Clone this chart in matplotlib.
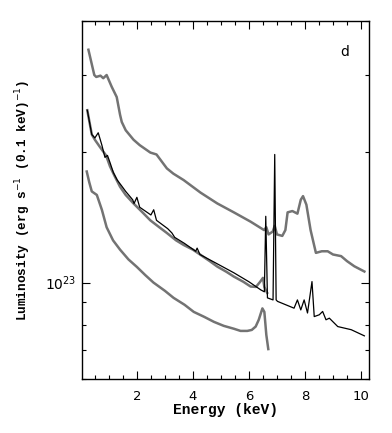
import matplotlib
matplotlib.use("Agg")
import matplotlib.pyplot as plt
from matplotlib.ticker import LogLocator, NullFormatter, MultipleLocator
import numpy as np

# luminosities in units of 1e23 erg/s/(0.1 keV)
top_e = [0.27, 0.48, 0.55, 0.70, 0.80, 0.92, 1.10, 1.28, 1.40, 1.46, 1.60, 1.88, 2.10, 2.48, 2.70,
         3.07, 3.30, 3.67, 4.27, 4.87, 5.46, 6.06, 6.54, 6.62, 6.70, 6.85, 6.92, 7.00, 7.19, 7.30,
         7.38, 7.55, 7.73, 7.85, 7.93, 8.05, 8.20, 8.39, 8.60, 8.81, 9.00, 9.29, 9.50, 9.76, 10.12]
top_l = [3.43, 3.00, 2.97, 2.99, 2.95, 3.00, 2.82, 2.67, 2.43, 2.34, 2.24, 2.13, 2.07, 1.99, 1.97,
         1.83, 1.78, 1.72, 1.61, 1.52, 1.45, 1.38, 1.32, 1.34, 1.29, 1.31, 1.35, 1.29, 1.28, 1.32,
         1.45, 1.46, 1.44, 1.55, 1.58, 1.51, 1.32, 1.17, 1.18, 1.18, 1.16, 1.15, 1.12, 1.09, 1.06]

cont_e = [0.23, 0.39, 0.50, 0.68, 0.90, 1.04, 1.20, 1.40, 1.60, 1.88, 2.20, 2.48, 2.80, 3.07, 3.40,
          3.67, 4.00, 4.27, 4.60, 4.87, 5.20, 5.46, 5.80, 6.06, 6.25, 6.40, 6.50, 6.55, 6.65]
cont_l = [2.49, 2.19, 2.13, 2.05, 1.96, 1.85, 1.76, 1.66, 1.59, 1.52, 1.45, 1.39, 1.34, 1.30, 1.25,
          1.22, 1.19, 1.158, 1.12, 1.088, 1.058, 1.032, 1.004, 0.979, 0.977, 1.004, 1.025, 0.977, 0.947]

line_e = [0.23, 0.39, 0.50, 0.62, 0.75, 0.86, 0.95, 1.05, 1.16, 1.30, 1.45, 1.60, 1.85, 1.90, 2.00,
          2.10, 2.50, 2.60, 2.70, 3.10, 3.25, 3.35, 3.70, 4.10, 4.15, 4.25, 4.87, 5.46, 6.00, 6.42,
          6.55, 6.60, 6.66, 6.86, 6.92, 6.97, 7.02, 7.61, 7.73, 7.85, 7.97, 8.09, 8.25, 8.33, 8.51,
          8.63, 8.75, 8.87, 9.17, 9.65, 10.12]
line_l = [2.49, 2.19, 2.15, 2.21, 2.07, 1.94, 1.96, 1.88, 1.79, 1.72, 1.67, 1.62, 1.55, 1.52, 1.57,
          1.49, 1.43, 1.47, 1.39, 1.33, 1.30, 1.27, 1.23, 1.18, 1.20, 1.16, 1.104, 1.053, 1.004, 0.962,
          0.952, 1.42, 0.922, 0.912, 1.97, 0.912, 0.905, 0.873, 0.912, 0.865, 0.912, 0.851, 1.005, 0.835, 0.843,
          0.858, 0.821, 0.828, 0.792, 0.779, 0.754]

low_e = [0.21, 0.30, 0.39, 0.57, 0.75, 0.92, 1.15, 1.40, 1.70, 2.00, 2.30, 2.59, 3.00, 3.31, 3.70,
         4.03, 4.40, 4.75, 5.10, 5.46, 5.70, 5.94, 6.10, 6.24, 6.35, 6.48, 6.55, 6.62, 6.69]
low_l = [1.80, 1.70, 1.62, 1.59, 1.47, 1.34, 1.25, 1.19, 1.13, 1.086, 1.04, 1.00, 0.957, 0.922, 0.889,
         0.856, 0.834, 0.812, 0.795, 0.783, 0.774, 0.774, 0.778, 0.792, 0.821, 0.872, 0.856, 0.758, 0.703]

scale = 1e23

fig = plt.figure(figsize=(3.92, 4.33), dpi=100)
ax = fig.add_axes([0.2084, 0.1247, 0.734, 0.8275])

gray = '#737373'
ax.plot(top_e, np.array(top_l) * scale, color=gray, lw=1.8)
ax.plot(cont_e, np.array(cont_l) * scale, color=gray, lw=1.8)
ax.plot(low_e, np.array(low_l) * scale, color=gray, lw=1.8)
ax.plot(line_e, np.array(line_l) * scale, color='black', lw=0.9)

ax.set_yscale('log')
ax.set_xlim(0.03, 10.3)
ax.set_ylim(6e22, 4e23)

ax.xaxis.set_major_locator(MultipleLocator(2))
ax.xaxis.set_minor_locator(MultipleLocator(0.5))
ax.yaxis.set_major_locator(LogLocator(base=10))
ax.yaxis.set_minor_locator(LogLocator(base=10, subs=np.arange(2, 10)))
ax.yaxis.set_minor_formatter(NullFormatter())

ax.tick_params(which='both', direction='in', top=True, right=True, width=0.8)
ax.tick_params(which='major', length=6, labelsize=9.5)
ax.tick_params(which='minor', length=3)
ax.tick_params(axis='x', which='major', pad=8)
ax.tick_params(axis='y', which='major', labelsize=10)
for s in ax.spines.values():
    s.set_linewidth(1.0)

ax.set_xlabel('Energy (keV)', family='Liberation Mono', weight='bold', fontsize=10.5, labelpad=0)
ax.set_ylabel(r'Luminosity (erg s$^{-1}$ (0.1 keV)$^{-1}$)', family='Liberation Mono',
              weight='bold', fontsize=9.2, labelpad=9)
ax.text(0.915, 0.913, 'd', transform=ax.transAxes, fontsize=10, ha='center', va='center')

fig.savefig('out.png', dpi=100)
